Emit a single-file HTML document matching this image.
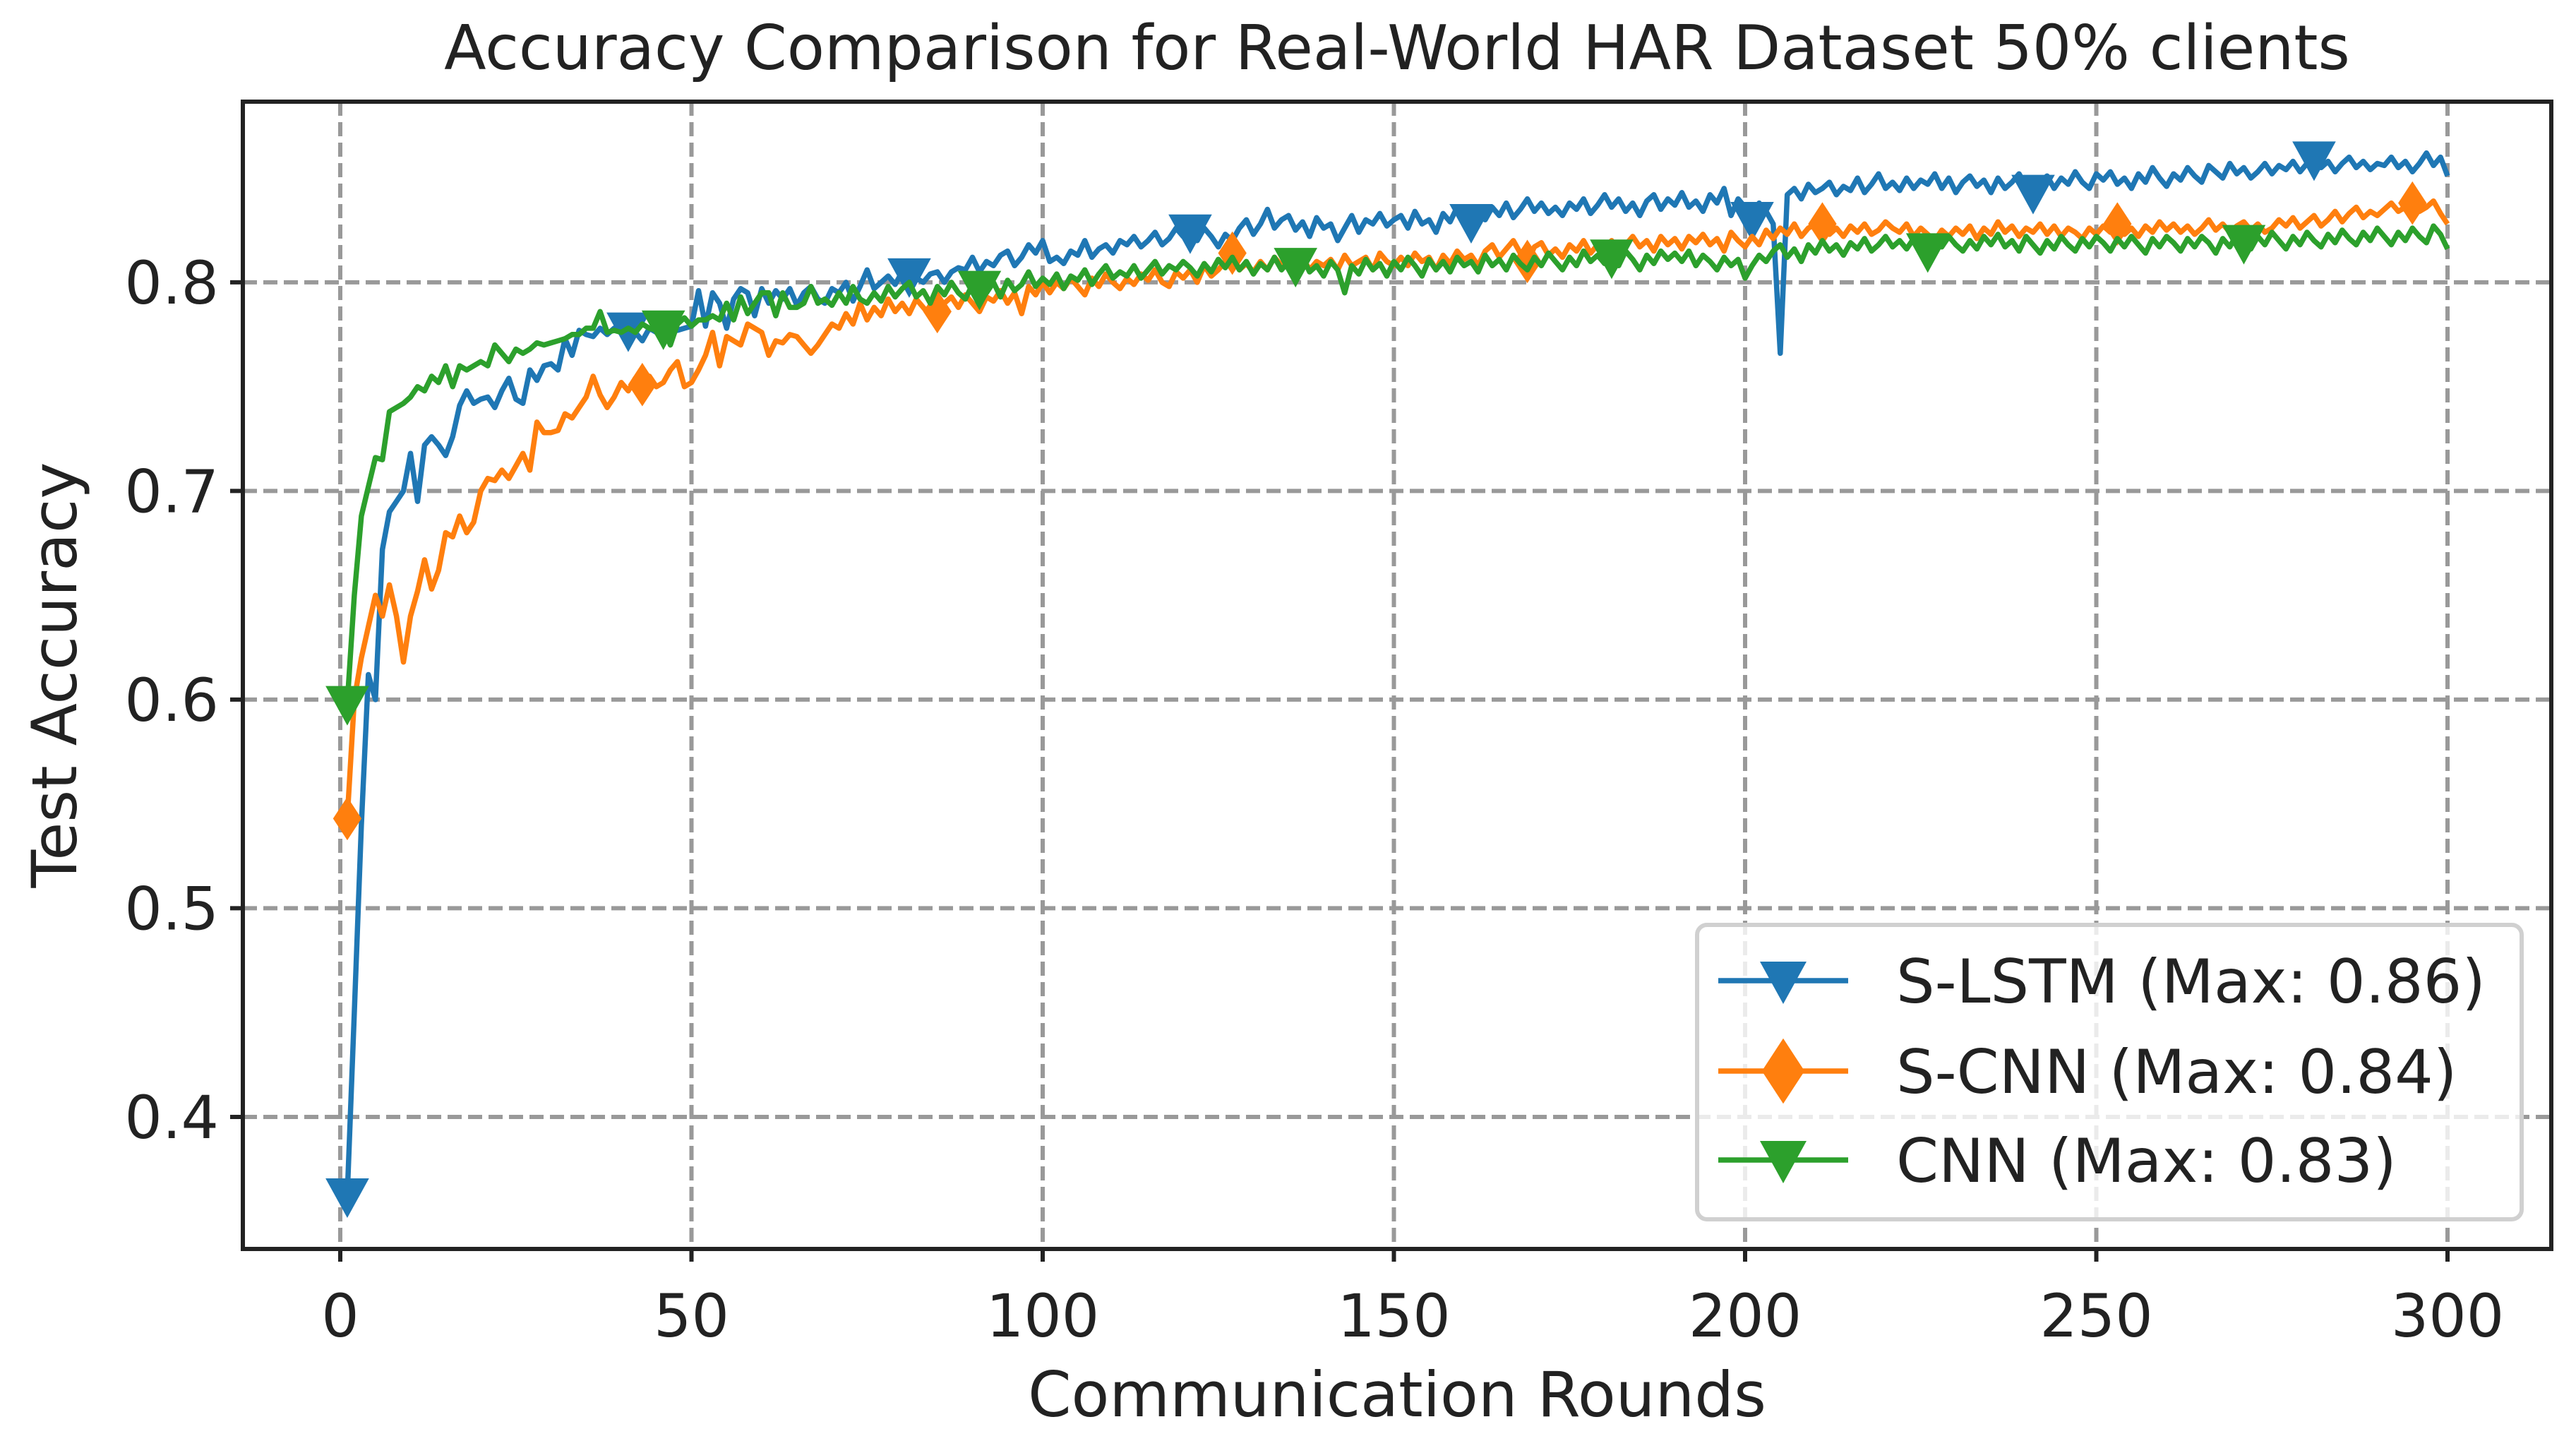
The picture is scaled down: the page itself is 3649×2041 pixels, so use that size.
<!DOCTYPE html>
<html><head><meta charset="utf-8"><style>
html,body{margin:0;padding:0;background:#fff;}
svg{display:block;font-family:"DejaVu Sans","Liberation Sans",sans-serif;}
</style></head><body>
<svg id="chart" width="3649" height="2041" viewBox="0 0 3649 2041" xmlns="http://www.w3.org/2000/svg">
<rect width="3649" height="2041" fill="#fff"/>
<g id="grid"></g>
<g id="series"></g>
<g id="axes"></g>
<text x="1979" y="98" font-size="87" text-anchor="middle" fill="#222">Accuracy Comparison for Real-World HAR Dataset 50% clients</text>
<text x="1979" y="2006" font-size="88" text-anchor="middle" fill="#222">Communication Rounds</text>
<text transform="translate(108,956) rotate(-90)" font-size="88" text-anchor="middle" fill="#222">Test Accuracy</text>
<g id="legend"></g>
</svg>
<script>
const xTicks=[0,50,100,150,200,250,300];
const yTicks=[0.4,0.5,0.6,0.7,0.8];
const yTickLabels=["0.4","0.5","0.6","0.7","0.8"];
const seriesNames=["S-LSTM (Max: 0.86)","S-CNN (Max: 0.84)","CNN (Max: 0.83)"];
const slstm=[.362,.45,.54,.612,.600,.672,.690,.695,.700,.718,
.695,.722,.726,.722,.717,.726,.741,.748,.742,.744,
.745,.740,.748,.754,.744,.742,.758,.753,.760,.761,
.758,.773,.765,.777,.775,.774,.778,.775,.778,.776,
.777,.776,.772,.778,.776,.778,.780,.777,.778,.779,
.796,.779,.795,.790,.778,.792,.797,.795,.784,.797,
.790,.796,.792,.797,.789,.795,.798,.792,.790,.797,
.795,.800,.791,.798,.806,.797,.800,.803,.799,.805,
.803,.802,.800,.804,.805,.800,.805,.807,.806,.812,
.805,.810,.808,.813,.815,.808,.812,.818,.814,.820,
.810,.812,.809,.815,.813,.820,.812,.816,.818,.814,
.820,.818,.822,.817,.820,.824,.818,.821,.826,.822,
.824,.820,.826,.822,.817,.823,.820,.826,.830,.823,
.828,.835,.826,.830,.832,.825,.829,.822,.831,.826,
.828,.820,.826,.832,.824,.830,.828,.833,.827,.830,
.832,.826,.834,.828,.830,.824,.833,.829,.836,.831,
.829,.834,.830,.836,.832,.838,.831,.835,.840,.834,
.838,.833,.836,.832,.838,.835,.840,.833,.837,.842,
.836,.840,.834,.838,.832,.839,.842,.835,.840,.837,
.843,.836,.839,.834,.842,.838,.845,.832,.840,.836,
.830,.838,.834,.828,.766,.842,.845,.840,.847,.843,
.845,.848,.842,.846,.844,.850,.843,.847,.852,.845,
.848,.844,.850,.845,.849,.847,.852,.845,.850,.843,
.848,.851,.846,.849,.843,.850,.845,.848,.852,.846,
.843,.848,.851,.845,.850,.847,.853,.848,.845,.852,
.849,.853,.847,.850,.845,.852,.848,.855,.850,.846,
.852,.849,.855,.851,.848,.856,.853,.850,.857,.852,
.855,.850,.853,.857,.852,.856,.854,.858,.853,.857,
.859,.855,.858,.853,.857,.860,.855,.858,.854,.857,
.856,.860,.855,.858,.853,.857,.862,.856,.860,.851];
const scnn=[.543,.600,.620,.635,.650,.640,.655,.640,.618,.640,
.652,.667,.653,.662,.680,.678,.688,.680,.685,.700,
.706,.705,.710,.706,.712,.718,.710,.733,.728,.728,
.729,.737,.735,.740,.745,.755,.746,.740,.745,.752,
.748,.754,.751,.755,.750,.752,.758,.762,.750,.752,
.758,.765,.776,.760,.774,.772,.770,.780,.778,.776,
.765,.772,.771,.775,.774,.770,.766,.770,.775,.780,
.778,.785,.780,.790,.782,.788,.784,.792,.786,.790,
.785,.792,.788,.784,.786,.790,.793,.788,.794,.790,
.786,.793,.791,.796,.790,.795,.785,.798,.794,.800,
.795,.800,.797,.802,.798,.794,.802,.798,.804,.800,
.797,.802,.799,.804,.801,.806,.800,.798,.805,.802,
.806,.800,.808,.803,.806,.810,.814,.806,.809,.805,
.810,.806,.812,.808,.810,.804,.812,.806,.810,.808,
.811,.806,.813,.808,.810,.812,.806,.814,.810,.808,
.812,.808,.814,.810,.812,.806,.813,.809,.815,.811,
.813,.808,.815,.818,.812,.816,.820,.814,.810,.817,
.819,.813,.816,.812,.818,.815,.820,.814,.818,.816,
.820,.815,.818,.822,.817,.820,.815,.822,.818,.821,
.816,.822,.819,.823,.818,.821,.815,.824,.820,.817,
.822,.818,.825,.821,.826,.823,.828,.822,.826,.828,
.828,.823,.826,.822,.827,.824,.828,.823,.825,.829,
.826,.824,.828,.822,.826,.823,.820,.825,.822,.826,
.823,.827,.821,.826,.823,.829,.824,.827,.822,.826,
.824,.828,.823,.827,.822,.826,.824,.821,.826,.823,
.827,.824,.828,.823,.826,.822,.827,.824,.829,.825,
.828,.824,.827,.823,.826,.830,.825,.828,.824,.827,
.829,.825,.828,.824,.826,.830,.827,.831,.826,.829,
.832,.827,.830,.834,.829,.833,.836,.831,.834,.832,
.835,.838,.834,.836,.838,.834,.836,.839,.833,.828];
const cnn=[.598,.650,.688,.702,.716,.715,.738,.740,.742,.745,
.750,.748,.755,.752,.760,.750,.760,.758,.760,.762,
.760,.770,.766,.762,.768,.766,.768,.771,.770,.771,
.772,.773,.775,.775,.778,.778,.786,.776,.777,.776,
.778,.776,.780,.778,.777,.778,.770,.780,.783,.779,
.782,.782,.784,.782,.790,.782,.793,.785,.790,.795,
.795,.784,.795,.788,.788,.790,.798,.790,.792,.789,
.795,.790,.798,.792,.790,.795,.791,.798,.793,.797,
.800,.793,.796,.790,.798,.794,.800,.795,.792,.799,
.797,.795,.800,.793,.801,.796,.799,.805,.798,.802,
.799,.804,.797,.803,.801,.806,.799,.804,.808,.802,
.805,.803,.808,.802,.806,.810,.804,.808,.806,.810,
.807,.803,.809,.805,.811,.807,.812,.806,.810,.804,
.809,.806,.812,.806,.810,.808,.812,.805,.808,.803,
.810,.806,.795,.808,.804,.811,.806,.809,.803,.810,
.806,.812,.808,.803,.811,.806,.810,.805,.812,.808,
.810,.805,.813,.808,.811,.806,.813,.809,.806,.812,
.808,.814,.810,.806,.812,.808,.815,.810,.813,.809,
.812,.808,.815,.811,.806,.813,.809,.815,.811,.814,
.810,.815,.808,.813,.810,.806,.812,.808,.811,.802,
.808,.813,.810,.815,.818,.812,.816,.810,.818,.814,
.820,.815,.818,.813,.819,.816,.821,.815,.818,.822,
.817,.820,.816,.821,.818,.815,.820,.817,.822,.818,
.815,.820,.816,.822,.818,.823,.817,.820,.815,.822,
.818,.814,.820,.816,.822,.818,.815,.821,.817,.822,
.819,.815,.821,.817,.822,.818,.814,.821,.817,.822,
.819,.815,.821,.817,.822,.819,.814,.821,.817,.823,
.819,.816,.822,.818,.824,.820,.816,.822,.818,.824,
.820,.817,.823,.819,.825,.821,.818,.824,.820,.826,
.822,.818,.824,.820,.826,.822,.819,.827,.823,.816];
const slstmMarkers=[1,41,81,121,161,201,241,281];
const scnnMarkers=[1,43,85,127,169,211,253,295];
const cnnMarkers=[1,46,91,136,181,226,271];

const NS="http://www.w3.org/2000/svg";
const L=344,R=3614,T=144,B=1769;
const ymin=0.3367,ymax=0.8866;
const X0=482,X300=3467;
function sx(v){return X0+(v)*(X300-X0)/300;}
function sy(v){return B-(v-ymin)/(ymax-ymin)*(B-T);}
function mk(tag,attrs,parent){const e=document.createElementNS(NS,tag);for(const k in attrs)e.setAttribute(k,attrs[k]);parent.appendChild(e);return e;}
const grid=document.getElementById('grid'),axes=document.getElementById('axes'),ser=document.getElementById('series'),leg=document.getElementById('legend');
const gridStyle={stroke:'#999','stroke-width':6,'stroke-dasharray':'20 9'};
xTicks.forEach(t=>{
  const g=mk('line',Object.assign({x1:sx(t),x2:sx(t),y1:T,y2:B},gridStyle),grid);
  
  
  const tk=mk('line',{x1:sx(t),x2:sx(t),y1:B,y2:B+18,stroke:'#222','stroke-width':6},axes);
  
  
  const tx=mk('text',{x:sx(t),y:1893,'font-size':84,'text-anchor':'middle',fill:'#222'},axes);
  tx.textContent=String(t);
  
  
});
yTicks.forEach((t,i)=>{
  const g=mk('line',Object.assign({x1:L,x2:R,y1:sy(t),y2:sy(t)},gridStyle),grid);
  
  
  const tk=mk('line',{x1:L-18,x2:L,y1:sy(t),y2:sy(t),stroke:'#222','stroke-width':6},axes);
  
  
  const tx=mk('text',{x:L-34,y:sy(t)+30,'font-size':84,'text-anchor':'end',fill:'#222'},axes);
  tx.textContent=yTickLabels[i];
  
  
});
const frame=mk('rect',{x:L,y:T,width:R-L,height:B-T,fill:'none',stroke:'#222','stroke-width':6},axes);



function tri(cx,cy,s){return `${cx-s*0.55},${cy-s*0.45} ${cx+s*0.55},${cy-s*0.45} ${cx},${cy+s*0.55}`;}
function dia(cx,cy,s){return `${cx},${cy-s*0.55} ${cx+s*0.36},${cy} ${cx},${cy+s*0.55} ${cx-s*0.36},${cy}`;}
const defs=[{name:'s-lstm',data:slstm,m:slstmMarkers,c:'#1f77b4',shape:tri},
{name:'s-cnn',data:scnn,m:scnnMarkers,c:'#ff7f0e',shape:dia},
{name:'cnn',data:cnn,m:cnnMarkers,c:'#2ca02c',shape:tri}];
defs.forEach(d=>{
  const pts=d.data.map((v,i)=>sx(i+1).toFixed(1)+','+sy(v).toFixed(1)).join(' ');
  const pl=mk('polyline',{points:pts,fill:'none',stroke:d.c,'stroke-width':7.5,'stroke-linejoin':'round'},ser);
  
  
  d.m.forEach(r=>{
    const p=mk('polygon',{points:d.shape(sx(r),sy(d.data[r-1]),56),fill:d.c},ser);
    
    
  });
});
const box=mk('rect',{x:2404,y:1310,width:1168,height:417,rx:14,fill:'#fff','fill-opacity':0.8,stroke:'#d0d0d0','stroke-width':6},leg);


const ly=[1389,1517,1643];
defs.forEach((d,i)=>{
  const ln=mk('line',{x1:2434,x2:2618,y1:ly[i],y2:ly[i],stroke:d.c,'stroke-width':7.5},leg);
  
  
  const p=mk('polygon',{points:d.shape(2526,ly[i],d.shape===dia?84:60),fill:d.c},leg);
  
  
  const t=mk('text',{x:2686,y:ly[i]+31,'font-size':86,fill:'#222'},leg);
  t.textContent=seriesNames[i];
  
  
});
</script>
</body></html>
